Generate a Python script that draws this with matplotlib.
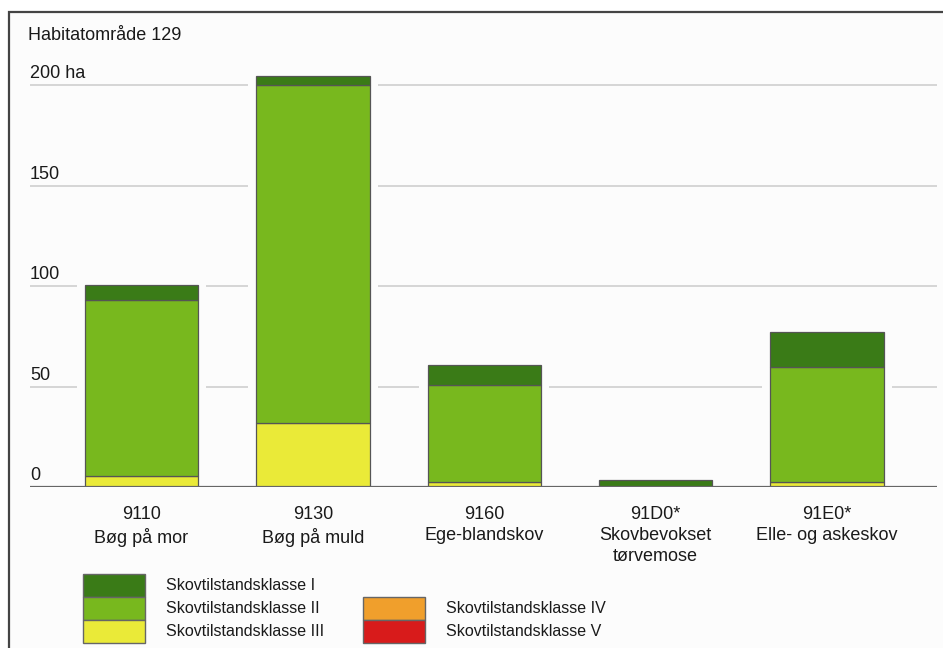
import matplotlib
matplotlib.use('Agg')
import matplotlib.pyplot as plt
from matplotlib.patches import Rectangle
import numpy as np

plt.rcParams['font.family'] = ['Liberation Sans', 'DejaVu Sans']

# data (ha)
codes = ['9110', '9130', '9160', '91D0*', '91E0*']
names = ['Bøg på mor', 'Bøg på muld', 'Ege-blandskov', 'Skovbevokset\ntørvemose', 'Elle- og askeskov']
klasse_III = [5.7, 31.9, 2.5, 0.0, 2.5]
klasse_II = [87.6, 168.1, 48.1, 0.0, 57.0]
klasse_I = [7.0, 4.3, 9.9, 3.5, 17.6]
klasse_IV = [0, 0, 0, 0, 0]
klasse_V = [0, 0, 0, 0, 0]
yticks = [0, 50, 100, 150, 200]
ytick_labels = ['0', '50', '100', '150', '200 ha']

legend_labels = ['Skovtilstandsklasse I', 'Skovtilstandsklasse II', 'Skovtilstandsklasse III',
                 'Skovtilstandsklasse IV', 'Skovtilstandsklasse V']
colors = ['#3a7b17', '#78b81e', '#eaea38', '#f09f2c', '#d81b1b']

W, H = 943, 648
fig = plt.figure(figsize=(W / 100, H / 100), dpi=100)
fig.patch.set_facecolor('white')


def fx(px):
    return px / W


def fy(py):
    return 1 - py / H


# outer frame
fig.add_artist(Rectangle((fx(9), fy(660)), fx(960) - fx(9), fy(12) - fy(660),
                         transform=fig.transFigure, facecolor='#fcfcfc',
                         edgecolor='#444444', lw=1.6, zorder=0))

ax = fig.add_axes([fx(30), fy(487), fx(937) - fx(30), fy(70) - fy(487)])
ax.set_facecolor('none')
x = np.arange(len(codes))
width = 0.662
ax.set_xlim(-0.6505, 4.641)
ax.set_ylim(0, 207.5)

# gridlines
for t in yticks[1:]:
    ax.axhline(t, color='#cfcfcf', lw=1.2, zorder=1)
ax.axhline(0, color='#666666', lw=1.6, zorder=5)

totals = np.array(klasse_III) + np.array(klasse_II) + np.array(klasse_I)
# white gap round each bar so the gridlines stop short
ax.bar(x, totals, width=width + 0.095, color='#fcfcfc', lw=0, zorder=2)

bottom = np.zeros(len(codes))
for vals, c in zip([klasse_III, klasse_II, klasse_I, klasse_IV, klasse_V],
                   [colors[2], colors[1], colors[0], colors[3], colors[4]]):
    vals = np.array(vals)
    mask = vals > 0
    ax.bar(x[mask], vals[mask], width=width, bottom=bottom[mask], color=c,
           edgecolor='#555555', lw=0.9, zorder=3)
    bottom += vals

for sp in ax.spines.values():
    sp.set_visible(False)
ax.set_xticks([])
ax.set_yticks([])

for t, lab in zip(yticks, ytick_labels):
    ax.annotate(lab, xy=(0, t), xycoords=ax.get_yaxis_transform(),
                xytext=(0, 5), textcoords='offset points',
                ha='left', va='baseline', fontsize=13, color='#1a1a1a')

for i in x:
    ax.annotate(codes[i] + '\n' + names[i], xy=(i, 0), xytext=(0, -14),
                textcoords='offset points', ha='center', va='top',
                fontsize=13, color='#1a1a1a', linespacing=1.28,
                annotation_clip=False)

fig.text(fx(28), fy(35), 'Habitatområde 129', ha='left', va='center',
         fontsize=13, color='#1a1a1a')

# legend
rows = [(83, 574), (83, 597), (83, 620), (363, 597), (363, 620)]
for (px, py), lab, c in zip(rows, legend_labels, colors):
    fig.add_artist(Rectangle((fx(px), fy(py + 23)), fx(62), 23 / H,
                             transform=fig.transFigure, facecolor=c,
                             edgecolor='#666666', lw=1.0, zorder=3))
    fig.text(fx(px + 83), fy(py + 11.5), lab, ha='left', va='center',
             fontsize=11.5, color='#1a1a1a')

fig.savefig('out.png', dpi=100)
